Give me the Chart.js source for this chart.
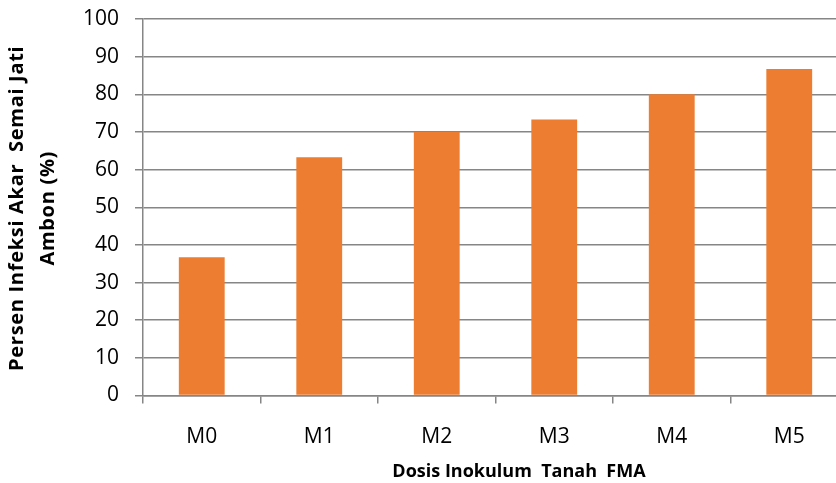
<!DOCTYPE html>
<html>
<head>
<meta charset="utf-8">
<script src="https://cdn.jsdelivr.net/npm/chart.js@4/dist/chart.umd.min.js"></script>
<style>
    html, body { margin: 0; padding: 0; background: #ffffff; overflow: hidden; }
    #wrap { width: 870px; height: 483px; }
</style>
</head>
<body>
<div id="wrap"><canvas id="infeksiChart" width="870" height="483"></canvas></div>
<script>
// Dosis inokulum vs persen infeksi akar
const doses = ['M0', 'M1', 'M2', 'M3', 'M4', 'M5'];
const infectionPct = [36.7, 63.3, 70.0, 73.3, 80.0, 86.7];
const yTitleLines = ['Persen Infeksi Akar  Semai Jati', 'Ambon (%)'];
const xTitle = 'Dosis Inokulum  Tanah  FMA';

const gridGray = '#868686';
const tickFont = { family: "'Open Sans', sans-serif", size: 21 };

// axis titles drawn by hand so they sit where the layout wants them
const axisTitles = {
    id: 'axisTitles',
    afterDraw(chart) {
        const ctx = chart.ctx;
        const area = chart.chartArea;
        ctx.save();
        ctx.fillStyle = '#000000';
        ctx.textAlign = 'center';
        ctx.textBaseline = 'middle';
        ctx.font = "bold 18px 'Open Sans', sans-serif";
        ctx.fillText(xTitle, 519, 472);

        ctx.font = "bold 20px 'Open Sans', sans-serif";
        ctx.letterSpacing = '0.7px';
        const midY = (area.top + area.bottom) / 2 + 1;
        [17, 48].forEach(function(x, i) {
            ctx.save();
            ctx.translate(x, midY);
            ctx.rotate(-Math.PI / 2);
            ctx.fillText(yTitleLines[i], 0, 0);
            ctx.restore();
        });
        ctx.restore();
    }
};

new Chart(document.getElementById('infeksiChart'), {
    type: 'bar',
    data: {
        labels: doses,
        datasets: [{
            data: infectionPct,
            backgroundColor: '#ED7D31',
            borderWidth: 0,
            barPercentage: 0.39,
            categoryPercentage: 1.0
        }]
    },
    options: {
        responsive: false,
        animation: false,
        layout: { padding: { top: 19, right: 22, bottom: 0, left: 0 } },
        plugins: {
            legend: { display: false },
            tooltip: { enabled: false }
        },
        scales: {
            x: {
                grid: {
                    drawOnChartArea: false,
                    drawTicks: true,
                    tickLength: 8,
                    color: gridGray,
                    lineWidth: 1.5
                },
                border: { color: gridGray, width: 1.5 },
                ticks: { color: '#000000', font: tickFont, padding: 21 },
                afterFit: function(scale) {
                    scale.height = 87.5;
                    scale.paddingLeft = 0;
                    scale.paddingRight = 0;
                }
            },
            y: {
                min: 0,
                max: 100,
                ticks: { stepSize: 10, color: '#000000', font: tickFont, padding: 16 },
                grid: { color: gridGray, lineWidth: 1.5, tickLength: 8 },
                border: { color: gridGray, width: 1.5 },
                afterFit: function(scale) {
                    scale.width = 143;
                    scale.paddingTop = 0;
                    scale.paddingBottom = 0;
                }
            }
        }
    },
    plugins: [axisTitles]
});
</script>
</body>
</html>
